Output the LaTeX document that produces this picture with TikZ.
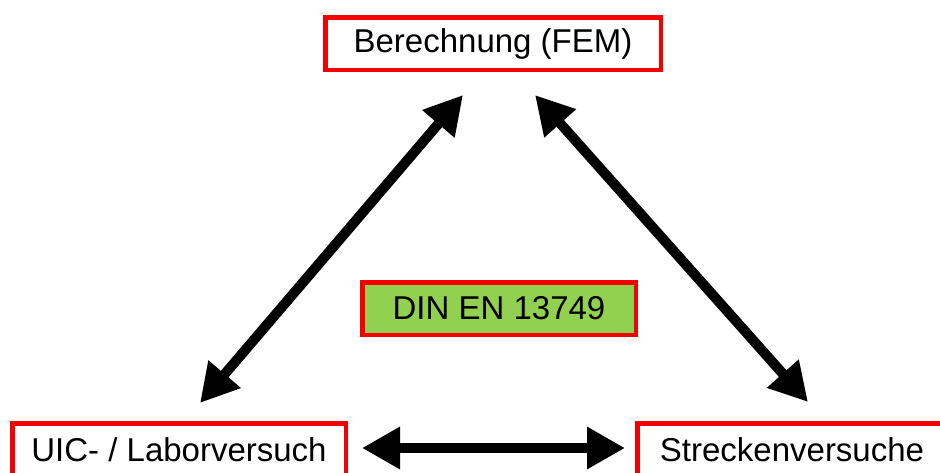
\documentclass[tikz,border=0pt]{standalone}
\usepackage{fontspec}
\setmainfont{Liberation Sans}
\usetikzlibrary{arrows.meta}
\definecolor{boxred}{RGB}{245,0,0}
\definecolor{dingreen}{RGB}{146,208,80}
\tikzset{
  box/.style={draw=boxred, line width=4.5pt, fill=white, rectangle, inner sep=0pt,
    minimum height=52.5pt, font=\fontsize{33}{38}\selectfont, text=black},
  dbl/.style={line width=10pt, draw=black,
    {Triangle[length=38pt,width=40pt]}-{Triangle[length=38pt,width=40pt]}}
}
\begin{document}
\begin{tikzpicture}[x=1pt,y=-1pt]
\useasboundingbox (0,0) rectangle (940,472);
\node[box, minimum width=335.5pt] (fem) at (493,43.5) {Berechnung (FEM)};
\node[box, fill=dingreen, minimum width=273.5pt] (din) at (499,308.5) {DIN EN 13749};
\node[box, minimum width=333.5pt] (uic) at (179,449.5) {UIC- / Laborversuch};
\node[box, minimum width=309.5pt] (str) at (792,449.5) {Streckenversuche};
\coordinate (l1) at (200,403);
\coordinate (l2) at (463,95);
\coordinate (r1) at (535,95);
\coordinate (r2) at (808,402);
\coordinate (h1) at (362,448);
\coordinate (h2) at (625,448);
\draw[dbl] (l1) -- (l2);
\draw[dbl] (r1) -- (r2);
\draw[dbl] (h1) -- (h2);
\end{tikzpicture}
\end{document}
